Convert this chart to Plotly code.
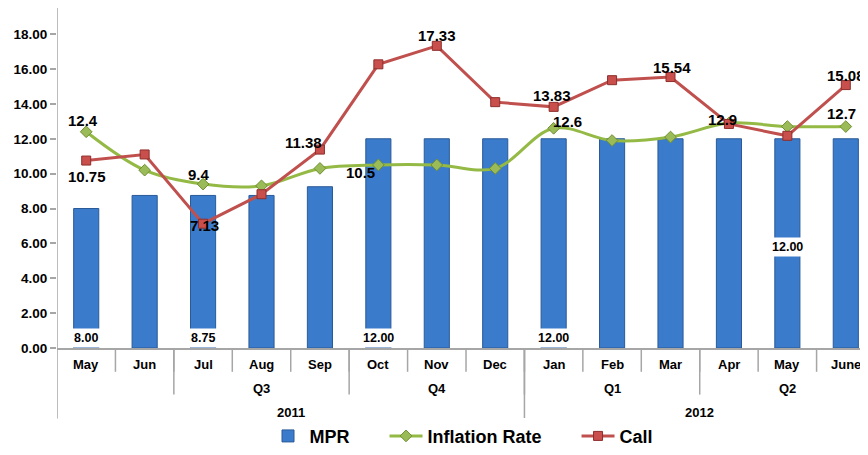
import plotly.graph_objects as go

months = ["May", "Jun", "Jul", "Aug", "Sep", "Oct", "Nov", "Dec",
          "Jan", "Feb", "Mar", "Apr", "May", "June"]
quarters = [("Q3", 2, 4), ("Q4", 5, 7), ("Q1", 8, 10), ("Q2", 11, 13)]
years = [("2011", 0, 7), ("2012", 8, 13)]
mpr = [8.00, 8.75, 8.75, 8.75, 9.25, 12.00, 12.00, 12.00, 12.00, 12.00, 12.00, 12.00, 12.00, 12.00]
inflation = [12.4, 10.2, 9.4, 9.3, 10.3, 10.5, 10.5, 10.3, 12.6, 11.9, 12.1, 12.9, 12.7, 12.7]
call = [10.75, 11.1, 7.13, 8.82, 11.38, 16.27, 17.33, 14.1, 13.83, 15.36, 15.54, 12.85, 12.17, 15.08]

# labelled points: index -> (pixel shift x, pixel shift y) of the label
infl_labeled = {0: (-3, 11), 2: (-4, 10), 5: (-18, -8), 8: (14, 7), 11: (-6, 4), 13: (-4, 13)}
call_labeled = {0: (1, -16), 2: (1, -2), 4: (-16, 7), 6: (0, 10), 8: (-2, 11), 10: (1, 10), 13: (0, 10)}
mpr_labels = {0: 0.0, 2: 0.0, 5: 0.0, 8: 0.0, 12: 5.8}

x = list(range(len(months)))
FONT = "Liberation Sans, Arial, sans-serif"
PAD = "\u00a0" * 6

fig = go.Figure()
fig.add_trace(go.Bar(
    x=x, y=mpr, name="MPR" + PAD, width=0.43,
    marker=dict(color="#3B7BCB", line=dict(color="#2A5A98", width=1)),
))
fig.add_trace(go.Scatter(
    x=x, y=inflation, name="Inflation Rate" + PAD, mode="lines+markers",
    line=dict(color="#94BA45", width=3, shape="spline", smoothing=1),
    marker=dict(symbol="diamond", size=9, color="#9BBB59", line=dict(color="#6F8F30", width=1)),
))
fig.add_trace(go.Scatter(
    x=x, y=call, name="Call", mode="lines+markers",
    line=dict(color="#C0504D", width=3),
    marker=dict(symbol="square", size=9, color="#C94F4C", line=dict(color="#8E2E2B", width=1)),
))

dl_font = dict(size=15, color="black", family=FONT, weight="bold")
annotations = []
for i, (dx, dy) in infl_labeled.items():
    annotations.append(dict(x=i, y=inflation[i], xref="x", yref="y", text=f"{inflation[i]:g}",
                            showarrow=False, xshift=dx, yshift=dy, font=dl_font))
for i, (dx, dy) in call_labeled.items():
    annotations.append(dict(x=i, y=call[i], xref="x", yref="y", text=f"{call[i]:.2f}",
                            showarrow=False, xshift=dx, yshift=dy, font=dl_font))
for i, yy in mpr_labels.items():
    annotations.append(dict(x=i, y=yy, xref="x", yref="y", text=f"{mpr[i]:.2f}",
                            showarrow=False, yanchor="bottom" if yy == 0 else "middle",
                            bgcolor="white", borderpad=2,
                            font=dict(size=12.5, color="black", family=FONT, weight="bold")))

# page has an 8px body margin; reference pixel coordinates are converted accordingly
PLOT_TOP, PLOT_BOT = 8, 351
PH = float(PLOT_BOT - PLOT_TOP)
def py(pix):
    return (PLOT_BOT - pix) / PH

lab_font = dict(size=13, color="black", family=FONT, weight="bold")
for i, m in enumerate(months):
    annotations.append(dict(x=i, y=py(368), xref="x", yref="paper", text=m, showarrow=False,
                            yanchor="middle", font=lab_font))
for q, a, b in quarters:
    annotations.append(dict(x=(a + b) / 2, y=py(392), xref="x", yref="paper", text=q, showarrow=False,
                            yanchor="middle", font=lab_font))
for yr, a, b in years:
    annotations.append(dict(x=(a + b) / 2, y=py(416), xref="x", yref="paper", text=yr, showarrow=False,
                            yanchor="middle", font=lab_font))

shapes = []
LC = "#A6A6A6"
for i in range(len(months)):
    b = i + 0.5
    if b > 13:
        continue
    shapes.append(dict(type="line", xref="x", yref="paper", x0=b, x1=b, y0=0, y1=py(375),
                       line=dict(color=LC, width=1.5)))
for q, a, b in quarters:
    bd = a - 0.5
    shapes.append(dict(type="line", xref="x", yref="paper", x0=bd, x1=bd, y0=0, y1=py(398),
                       line=dict(color=LC, width=1.5)))
shapes.append(dict(type="line", xref="x", yref="paper", x0=-0.5, x1=-0.5, y0=1, y1=py(422),
                   line=dict(color=LC, width=1.5)))
shapes.append(dict(type="line", xref="x", yref="paper", x0=7.5, x1=7.5, y0=0, y1=py(422),
                   line=dict(color=LC, width=1.5)))

fig.update_layout(
    width=860, height=447,
    margin=dict(l=49, r=0, t=0, b=104),
    plot_bgcolor="white", paper_bgcolor="white",
    font=dict(family=FONT, color="black", weight="bold"),
    bargap=0.5,
    showlegend=True,
    legend=dict(orientation="h", x=0.5, xanchor="center", y=py(440), yanchor="middle",
                font=dict(size=18, family=FONT, color="black", weight="bold"),
                itemwidth=33, tracegroupgap=0),
    annotations=annotations,
    shapes=shapes,
    xaxis=dict(range=[-0.5, 13.38], showticklabels=False, showgrid=False, zeroline=False,
               showline=True, linecolor=LC, linewidth=1.5, ticks=""),
    yaxis=dict(range=[0, 19.5], tickvals=[0, 2, 4, 6, 8, 10, 12, 14, 16, 18], tickformat=".2f",
               showgrid=False, zeroline=False, showline=False, ticks="outside", ticklen=6,
               tickcolor=LC, tickwidth=1.5,
               tickfont=dict(size=13.5, family=FONT, color="black", weight="bold")),
)

fig.write_html("out.html")
